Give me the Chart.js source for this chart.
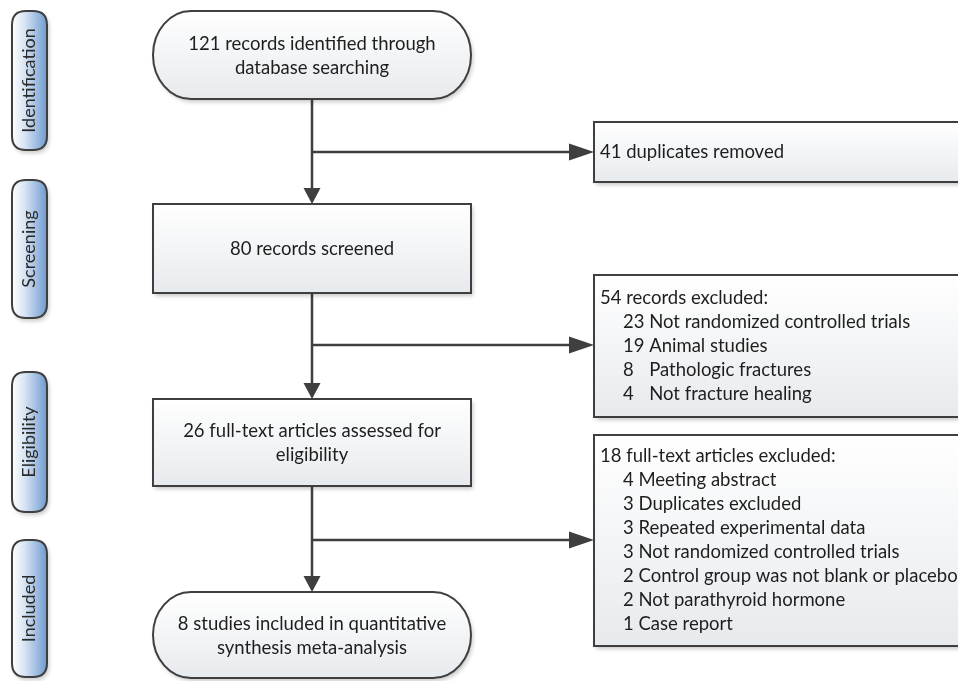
<!DOCTYPE html>
<html>
<head>
<meta charset="utf-8">
<script src="https://cdn.jsdelivr.net/npm/chart.js@4/dist/chart.umd.min.js"></script>
<style>
  html, body { margin: 0; padding: 0; background: #fff; }
  #wrap { width: 958px; height: 681px; }
</style>
</head>
<body>
<div id="wrap"><canvas id="flowChart"></canvas></div>
<script>
// PRISMA flow data
const stages = ['Identification', 'Screening', 'Eligibility', 'Included'];

const mainCounts = [121, 80, 26, 8];
const mainLines = [
  ['records identified through', 'database searching'],
  ['records screened'],
  ['full-text articles assessed for', 'eligibility'],
  ['studies included in quantitative', 'synthesis meta-analysis']
];

const excludedCounts = [41, 54, 18];
const excludedTitles = ['duplicates removed', 'records excluded:', 'full-text articles excluded:'];

const screenReasonCounts = [23, 19, 8, 4];
const screenReasons = ['Not randomized controlled trials', 'Animal studies', 'Pathologic fractures', 'Not fracture healing'];

const fullTextReasonCounts = [4, 3, 3, 3, 2, 2, 1];
const fullTextReasons = [
  'Meeting abstract',
  'Duplicates excluded',
  'Repeated experimental data',
  'Not randomized controlled trials',
  'Control group was not blank or placebo',
  'Not parathyroid hormone',
  'Case report'
];

// layout of the drawing (in scale units, 958 x 681 space)
const layout = {
  stagePills: [[11, 150], [180, 318], [372, 512], [540, 677]],
  pillX: [12, 47],
  mainX: [153, 471],
  mainY: [[11, 99], [204, 293], [399, 486], [592, 678]],
  mainShape: ['terminal', 'rect', 'rect', 'terminal'],
  sideX: [594, 990],
  sideY: [[122, 182], [275, 417], [435, 646]],
  branchY: [152, 345, 540],
  lineGap: 24
};

const font = '18.5px Lato, "Open Sans", sans-serif';
const ink = '#1e1e1e';
const edge = '#3f3f3f';

function terminalPath(ctx, x0, y0, x1, y1) {
  const ry = (y1 - y0) / 2, rx = 38, cy = (y0 + y1) / 2;
  ctx.beginPath();
  ctx.moveTo(x0 + rx, y0);
  ctx.lineTo(x1 - rx, y0);
  ctx.ellipse(x1 - rx, cy, rx, ry, 0, -Math.PI / 2, Math.PI / 2);
  ctx.lineTo(x0 + rx, y1);
  ctx.ellipse(x0 + rx, cy, rx, ry, 0, Math.PI / 2, Math.PI * 1.5);
  ctx.closePath();
}

function roundPath(ctx, x0, y0, x1, y1, r) {
  ctx.beginPath();
  ctx.moveTo(x0 + r, y0);
  ctx.lineTo(x1 - r, y0);
  ctx.quadraticCurveTo(x1, y0, x1, y0 + r);
  ctx.lineTo(x1, y1 - r);
  ctx.quadraticCurveTo(x1, y1, x1 - r, y1);
  ctx.lineTo(x0 + r, y1);
  ctx.quadraticCurveTo(x0, y1, x0, y1 - r);
  ctx.lineTo(x0, y0 + r);
  ctx.quadraticCurveTo(x0, y0, x0 + r, y0);
  ctx.closePath();
}

function rectPath(ctx, x0, y0, x1, y1) {
  ctx.beginPath();
  ctx.rect(x0, y0, x1 - x0, y1 - y0);
}

function paintShape(ctx, fill) {
  ctx.save();
  ctx.shadowColor = 'rgba(0,0,0,0.22)';
  ctx.shadowBlur = 4;
  ctx.shadowOffsetX = 2;
  ctx.shadowOffsetY = 3;
  ctx.fillStyle = fill;
  ctx.fill();
  ctx.restore();
  ctx.lineWidth = 2;
  ctx.strokeStyle = edge;
  ctx.stroke();
}

function boxFill(ctx, y0, y1) {
  const g = ctx.createLinearGradient(0, y0, 0, y1);
  g.addColorStop(0, '#ffffff');
  g.addColorStop(1, '#e7eaed');
  return g;
}

function arrow(ctx, x0, y0, x1, y1, len, half) {
  const a = Math.atan2(y1 - y0, x1 - x0);
  ctx.beginPath();
  ctx.moveTo(x0, y0);
  ctx.lineTo(x1 - Math.cos(a) * len * 0.8, y1 - Math.sin(a) * len * 0.8);
  ctx.lineWidth = 2.5;
  ctx.strokeStyle = edge;
  ctx.stroke();
  ctx.beginPath();
  ctx.moveTo(x1, y1);
  ctx.lineTo(x1 - Math.cos(a) * len - Math.sin(a) * half, y1 - Math.sin(a) * len + Math.cos(a) * half);
  ctx.lineTo(x1 - Math.cos(a) * len + Math.sin(a) * half, y1 - Math.sin(a) * len - Math.cos(a) * half);
  ctx.closePath();
  ctx.fillStyle = edge;
  ctx.fill();
}

function listBlock(ctx, px, py, x, yTop, title, counts, items) {
  ctx.textAlign = 'left';
  ctx.textBaseline = 'middle';
  ctx.fillText(title, px(x), py(yTop));
  if (!counts) return;
  const indent = x + 23;
  // align item text after the widest count in the list
  const numW = Math.max(...counts.map(c => ctx.measureText(String(c)).width));
  const gap = ctx.measureText(' ').width;
  counts.forEach((c, i) => {
    const yy = py(yTop + layout.lineGap * (i + 1));
    ctx.fillText(String(c), px(indent), yy);
    ctx.fillText(items[i], px(indent) + numW + gap, yy);
  });
}

const flowPlugin = {
  id: 'prismaFlow',
  afterDraw(chart) {
    const { ctx, scales: { x, y } } = chart;
    const px = v => x.getPixelForValue(v);
    const py = v => y.getPixelForValue(v);
    ctx.save();

    // stage pills on the left
    stages.forEach((s, i) => {
      const [t, b] = layout.stagePills[i];
      const x0 = px(layout.pillX[0]), x1 = px(layout.pillX[1]);
      roundPath(ctx, x0, py(t), x1, py(b), 14);
      const g = ctx.createLinearGradient(x0, 0, x1, 0);
      g.addColorStop(0, '#ffffff');
      g.addColorStop(0.35, '#d9e5f3');
      g.addColorStop(1, '#6f9bd1');
      paintShape(ctx, g);
      ctx.save();
      ctx.translate((x0 + x1) / 2, py((t + b) / 2));
      ctx.rotate(-Math.PI / 2);
      ctx.font = '18px Lato, "Open Sans", sans-serif';
      ctx.fillStyle = '#2a2a2a';
      ctx.textAlign = 'center';
      ctx.textBaseline = 'middle';
      ctx.fillText(s, 0, 0);
      ctx.restore();
    });

    // connectors
    const cx = (layout.mainX[0] + layout.mainX[1]) / 2;
    for (let i = 0; i < mainCounts.length - 1; i++) {
      arrow(ctx, px(cx), py(layout.mainY[i][1]), px(cx), py(layout.mainY[i + 1][0]), 16, 8.5);
      arrow(ctx, px(cx), py(layout.branchY[i]), px(layout.sideX[0]), py(layout.branchY[i]), 25, 8.5);
    }

    // main column boxes
    mainCounts.forEach((n, i) => {
      const [t, b] = layout.mainY[i];
      const x0 = px(layout.mainX[0]), x1 = px(layout.mainX[1]);
      if (layout.mainShape[i] === 'terminal') terminalPath(ctx, x0, py(t), x1, py(b));
      else rectPath(ctx, x0, py(t), x1, py(b));
      paintShape(ctx, boxFill(ctx, py(t), py(b)));
      const lines = mainLines[i].slice();
      lines[0] = n + ' ' + lines[0];
      ctx.fillStyle = ink;
      ctx.font = font;
      ctx.textAlign = 'center';
      ctx.textBaseline = 'middle';
      const mid = (t + b) / 2 + 1;
      lines.forEach((ln, k) => {
        ctx.fillText(ln, px(cx), py(mid + (k - (lines.length - 1) / 2) * layout.lineGap));
      });
    });

    // exclusion boxes on the right
    const sideLists = [[null, null], [screenReasonCounts, screenReasons], [fullTextReasonCounts, fullTextReasons]];
    excludedCounts.forEach((n, i) => {
      const [t, b] = layout.sideY[i];
      rectPath(ctx, px(layout.sideX[0]), py(t), px(layout.sideX[1]), py(b));
      paintShape(ctx, boxFill(ctx, py(t), py(b)));
      ctx.fillStyle = ink;
      ctx.font = font;
      const [counts, items] = sideLists[i];
      const rows = counts ? counts.length + 1 : 1;
      const firstY = (t + b) / 2 - (rows - 1) / 2 * layout.lineGap;
      listBlock(ctx, px, py, layout.sideX[0] + 6, firstY, n + ' ' + excludedTitles[i], counts, items);
    });

    ctx.restore();
  }
};

new Chart(document.getElementById('flowChart'), {
  type: 'scatter',
  data: { datasets: [{ data: [] }] },
  options: {
    responsive: true,
    maintainAspectRatio: false,
    animation: false,
    layout: { padding: 0 },
    plugins: { legend: { display: false }, tooltip: { enabled: false } },
    scales: {
      x: { type: 'linear', min: 0, max: 958, display: false },
      y: { type: 'linear', min: 0, max: 681, reverse: true, display: false }
    }
  },
  plugins: [flowPlugin]
});
</script>
</body>
</html>
